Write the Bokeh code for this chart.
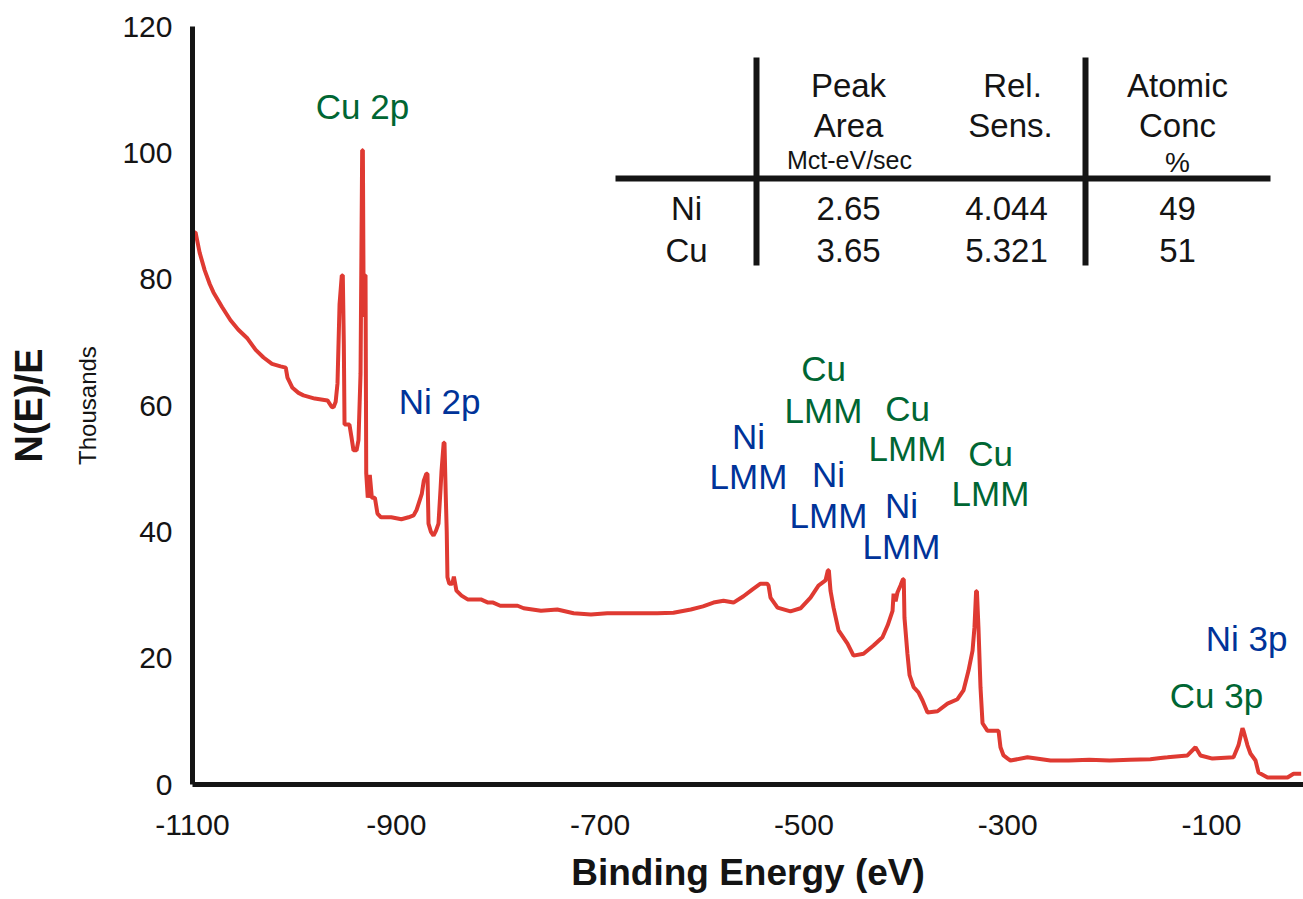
from bokeh.plotting import figure
from bokeh.models import LinearAxis, FixedTicker, ColumnDataSource, Range1d
from bokeh.core.properties import value
from bokeh.embed import file_html
from bokeh.resources import INLINE

# ---------------- data ----------------
binding_energy = [
    -1100, -1097, -1093, -1088, -1083, -1079.4, -1071, -1062.7, -1055, -1046,
    -1038, -1030.3, -1022, -1013.6, -1008.5, -1006.8, -1001.9, -996, -991.1, -980,
    -967.5, -963.5, -961.6, -959.5, -957.7, -955.7, -953.5, -952.5, -951.5, -950.8,
    -946, -944, -942, -939, -937.1, -935.1, -933.5, -932.8, -932, -931,
    -930.2, -929.5, -928, -926, -924, -921, -918.5, -915, -905, -895,
    -888, -883, -880, -878, -875, -873, -870.5, -869.4, -868.4, -866,
    -863.5, -861, -858.6, -856.5, -855.6, -853.5, -852.7, -851.5, -850.5, -849.8,
    -848, -845, -843.5, -841, -836, -830, -817, -810, -805, -798,
    -781, -775, -758, -742, -726, -709, -693, -660, -644, -628,
    -611, -599, -588.7, -578.9, -569.1, -559.3, -550.4, -542.6, -536, -534.7,
    -532.8, -525.9, -513.2, -503.3, -493.5, -485.7, -478.8, -476.5, -475.5, -473.9,
    -470.9, -466, -457.2, -451.3, -441.5, -431.7, -422.9, -417.8, -413, -412,
    -410, -408.2, -405.2, -402.8, -402, -401.3, -398.4, -396.3, -392.3, -387.6,
    -383.6, -378.7, -368.9, -359.1, -349.3, -343.4, -338.5, -334.5, -332.6, -331,
    -330.2, -328.7, -326.7, -324.7, -319.8, -309, -307.1, -304.1, -300, -297.3,
    -280.6, -258, -240, -220, -200, -180, -160, -150, -143.2, -123.6,
    -115.7, -110.8, -99, -78.4, -73.5, -69.6, -68.6, -64.7, -61.8, -56.8,
    -53.9, -45, -25.4, -19.5, -12,
]
counts_thousands = [
    87.4, 87.4, 84.2, 81.4, 79.2, 77.9, 75.6, 73.5, 72.0, 70.6,
    68.8, 67.6, 66.6, 66.2, 66.0, 64.4, 62.8, 62.0, 61.6, 61.1,
    60.8, 59.8, 59.7, 60.6, 63.5, 76.0, 80.6, 80.6, 69.8, 57.0,
    57.0, 55.0, 52.9, 52.9, 54.5, 65.0, 100.4, 100.4, 74.0, 80.6,
    80.6, 49.2, 45.4, 49.0, 45.4, 45.4, 42.9, 42.3, 42.3, 42.0,
    42.3, 42.6, 43.5, 44.5, 46.0, 48.1, 49.2, 49.2, 41.3, 40.0,
    39.4, 40.2, 41.3, 47.0, 49.7, 54.1, 54.1, 46.0, 40.0, 32.8,
    31.8, 31.8, 32.9, 30.7, 29.9, 29.3, 29.3, 28.8, 28.8, 28.3,
    28.3, 27.9, 27.5, 27.7, 27.1, 26.9, 27.1, 27.1, 27.1, 27.2,
    27.7, 28.2, 28.8, 29.1, 28.8, 29.8, 30.9, 31.8, 31.8, 31.5,
    29.6, 28.0, 27.4, 27.9, 29.6, 31.5, 32.3, 33.9, 33.9, 30.7,
    28.0, 24.4, 22.3, 20.4, 20.7, 22.0, 23.3, 25.2, 27.5, 30.2,
    29.0, 30.4, 31.5, 32.5, 32.5, 26.4, 20.7, 17.3, 15.4, 14.6,
    13.3, 11.4, 11.6, 12.8, 13.5, 14.9, 18.0, 21.2, 24.9, 30.6,
    30.6, 24.9, 15.4, 9.7, 8.5, 8.5, 5.9, 4.6, 4.1, 3.8,
    4.3, 3.8, 3.8, 3.9, 3.8, 3.9, 4.0, 4.2, 4.3, 4.6,
    5.9, 4.6, 4.1, 4.3, 6.2, 8.9, 8.5, 6.2, 4.9, 3.8,
    1.9, 1.1, 1.1, 1.7, 1.7,
]

x_ticks = [-1100, -900, -700, -500, -300, -100]
x_tick_labels = ["-1100", "-900", "-700", "-500", "-300", "-100"]
y_ticks = [0, 20, 40, 60, 80, 100, 120]
y_tick_labels = ["0", "20", "40", "60", "80", "100", "120"]

# peak labels (text lines)
peak_label_text = ["Cu 2p", "Ni 2p",
                   "Ni", "LMM", "Cu", "LMM", "Ni", "LMM",
                   "Cu", "LMM", "Ni", "LMM", "Cu", "LMM",
                   "Ni 3p", "Cu 3p"]
peak_label_element = ["Cu", "Ni",
                      "Ni", "Ni", "Cu", "Cu", "Ni", "Ni",
                      "Cu", "Cu", "Ni", "Ni", "Cu", "Cu",
                      "Ni", "Cu"]

# quantification table
table_elements = ["Ni", "Cu"]
table_peak_area = [2.65, 3.65]
table_rel_sens = [4.044, 5.321]
table_atomic_conc = [49, 51]

# ---------------- layout (pixel placement of annotations) ----------------
W, H = 1303, 899
FL, FT, FB = 192, 26, 784          # frame left / top / bottom (px)
PX_PER_EV = 1.019
X0, Y1 = -1100, 120
X_END = X0 + (W - FL) / PX_PER_EV
PX_PER_UNIT = (FB - FT) / Y1


def ex(px):
    return X0 + (px - FL) / PX_PER_EV


def ey(py, size=0):
    # baseline pixel -> data, with compensation for text box placement
    return (FB - (py - 0.35 * size)) / PX_PER_UNIT


LBL = 35
label_px = [362, 439, 748, 748, 823, 823, 828, 828, 907, 907, 901, 901, 990, 990, 1246, 1216]
label_py = [118, 413, 448, 488, 380, 422, 486, 527, 420, 460, 517, 558, 465, 505, 650, 707]
element_color = {"Cu": "#006633", "Ni": "#003399"}

FONT = "Liberation Sans"
INK = "#141414"

p = figure(width=W, height=H, output_backend="svg", toolbar_location=None,
           x_range=Range1d(X0, X_END), y_range=Range1d(0, Y1),
           min_border_left=FL, min_border_right=0, min_border_top=FT,
           min_border_bottom=H - FB, outline_line_color=None,
           background_fill_color="white", border_fill_color="white")
p.grid.visible = False

# x axis
xa = p.xaxis[0]
xa.ticker = FixedTicker(ticks=x_ticks)
xa.major_label_overrides = {t: s for t, s in zip(x_ticks, x_tick_labels)}
xa.axis_line_width = 5
xa.axis_line_color = INK
xa.major_tick_line_color = None
xa.minor_tick_line_color = None
xa.major_label_text_font = FONT
xa.major_label_text_font_size = "30px"
xa.major_label_text_color = INK
xa.major_label_standoff = 24
xa.axis_label = "Binding Energy (eV)"
xa.axis_label_text_font = FONT
xa.axis_label_text_font_style = "bold"
xa.axis_label_text_font_size = "37px"
xa.axis_label_text_color = INK
xa.axis_label_standoff = 14

# y axis (inner): tick labels + "Thousands"
ya = p.yaxis[0]
ya.ticker = FixedTicker(ticks=y_ticks)
ya.major_label_overrides = {t: s for t, s in zip(y_ticks, y_tick_labels)}
ya.axis_line_width = 5
ya.axis_line_color = INK
ya.major_tick_line_color = None
ya.minor_tick_line_color = None
ya.major_label_text_font = FONT
ya.major_label_text_font_size = "30px"
ya.major_label_text_color = INK
ya.major_label_standoff = 14
ya.axis_label = "Thousands"
ya.axis_label_text_font = FONT
ya.axis_label_text_font_style = "normal"
ya.axis_label_text_font_size = "24px"
ya.axis_label_text_color = INK
ya.axis_label_standoff = 18

# outer y axis: only the bold title
ya2 = LinearAxis(ticker=FixedTicker(ticks=[]), axis_line_color=None,
                 major_tick_line_color=None, minor_tick_line_color=None,
                 major_label_text_font_size="0px",
                 major_label_standoff=0,
                 axis_label="N(E)/E", axis_label_text_font=FONT,
                 axis_label_text_font_style="bold",
                 axis_label_text_font_size="38px",
                 axis_label_text_color=INK,
                 axis_label_standoff=22)
p.add_layout(ya2, "left")

# spectrum
p.line(binding_energy, counts_thousands, line_color="#df3a32", line_width=4)

# peak labels
lab_src = ColumnDataSource(dict(x=[ex(v) for v in label_px],
                                y=[ey(v, LBL) for v in label_py],
                                text=peak_label_text,
                                color=[element_color[e] for e in peak_label_element]))
p.text(x="x", y="y", text="text", source=lab_src, text_color="color",
       text_font=value(FONT), text_font_size=f"{LBL}px",
       text_align="center", text_baseline="alphabetic")

# ---------------- table ----------------
TS = 33
col_px = {"el": 686, "area": 848, "sens": 1006, "conc": 1177}
hdr_text = ["Peak", "Area", "Rel.", "Sens.", "Atomic", "Conc"]
hdr_px = [848, 848, 1012, 1010, 1177, 1177]
hdr_py = [97, 137, 97, 137, 97, 137]
p.text(x=[ex(v) for v in hdr_px], y=[ey(v, TS) for v in hdr_py], text=hdr_text,
       text_color=INK, text_font=value(FONT), text_font_size=f"{TS}px",
       text_align="center", text_baseline="alphabetic")
p.text(x=[ex(849)], y=[ey(168, 25)], text=["Mct-eV/sec"], text_color=INK,
       text_font=value(FONT), text_font_size="25px",
       text_align="center", text_baseline="alphabetic")
p.text(x=[ex(1177)], y=[ey(172, 28)], text=["%"], text_color=INK,
       text_font=value(FONT), text_font_size="28px",
       text_align="center", text_baseline="alphabetic")

row_py = [220, 262]
cell_x, cell_y, cell_t = [], [], []
for i, el in enumerate(table_elements):
    vals = [el, f"{table_peak_area[i]:.2f}", f"{table_rel_sens[i]:.3f}", f"{table_atomic_conc[i]}"]
    for key, t in zip(["el", "area", "sens", "conc"], vals):
        cell_x.append(ex(col_px[key]))
        cell_y.append(ey(row_py[i], TS))
        cell_t.append(t)
p.text(x=cell_x, y=cell_y, text=cell_t, text_color=INK,
       text_font=value(FONT), text_font_size=f"{TS}px",
       text_align="center", text_baseline="alphabetic")

# table rules
ey0 = lambda py: (FB - py) / PX_PER_UNIT
p.segment(x0=[ex(756), ex(1085), ex(615)], y0=[ey0(265), ey0(265), ey0(178)],
          x1=[ex(756), ex(1085), ex(1270)], y1=[ey0(57), ey0(57), ey0(178)],
          line_color=INK, line_width=6)

open("out.html", "w").write(file_html(p, INLINE))
